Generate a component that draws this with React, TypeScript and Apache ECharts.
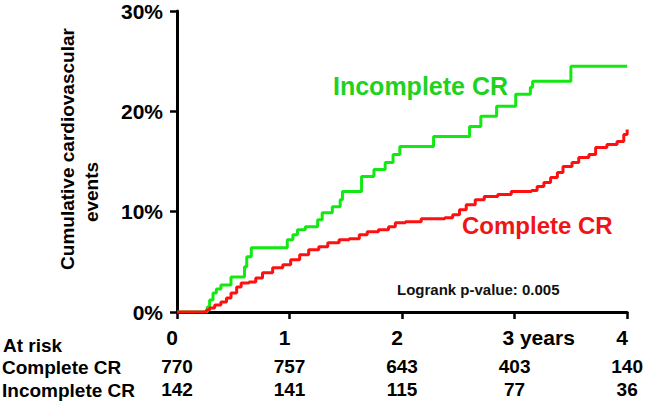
import React, { useEffect, useRef } from "react";
import * as echarts from "echarts";

// ---- data ----
const yearTicks = [0, 1, 2, 3, 4];
const yearLabels = ["0", "1", "2", "3 years", "4"];
const atRiskComplete = [770, 757, 643, 403, 140];
const atRiskIncomplete = [142, 141, 115, 77, 36];
const yTicks = [0, 10, 20, 30];

// Incomplete CR (green) Kaplan-Meier cumulative events, % (time in years)
const incompleteT = [0, 0.27, 0.29, 0.32, 0.35, 0.39, 0.48, 0.6, 0.62, 0.66, 0.98, 1.03, 1.07, 1.14, 1.25, 1.29, 1.38, 1.45, 1.47, 1.64, 1.75, 1.85, 1.92, 1.98, 2.28, 2.6, 2.7, 2.84, 3.01, 3.14, 3.16, 3.5, 4.0];
const incompleteV = [0, 0.5, 1.2, 1.9, 2.3, 2.7, 3.5, 4.5, 5.5, 6.4, 7.2, 7.7, 8.2, 8.5, 9.2, 9.9, 10.5, 11.2, 12.0, 13.5, 14.2, 14.9, 15.7, 16.5, 17.5, 18.5, 19.5, 20.5, 21.7, 22.4, 23.0, 24.5, 24.5];

// Complete CR (red)
const completeT = [0, 0.26, 0.29, 0.335, 0.39, 0.44, 0.48, 0.53, 0.57, 0.64, 0.7, 0.76, 0.85, 0.94, 1.01, 1.09, 1.17, 1.26, 1.34, 1.44, 1.53, 1.62, 1.69, 1.79, 1.88, 1.94, 2.03, 2.17, 2.38, 2.45, 2.51, 2.57, 2.65, 2.73, 2.85, 2.97, 3.15, 3.2, 3.26, 3.32, 3.38, 3.43, 3.51, 3.57, 3.66, 3.72, 3.82, 3.91, 3.97, 4.0];
const completeV = [0, 0.2, 0.4, 0.7, 1.0, 1.4, 1.9, 2.5, 2.9, 3.0, 3.4, 3.9, 4.4, 4.7, 5.2, 5.7, 6.2, 6.5, 6.9, 7.2, 7.3, 7.7, 8.0, 8.2, 8.5, 8.9, 9.0, 9.3, 9.4, 9.7, 10.2, 10.7, 11.2, 11.5, 11.7, 12.0, 12.1, 12.5, 12.9, 13.4, 13.9, 14.5, 14.9, 15.4, 15.7, 16.4, 16.7, 17.0, 17.7, 18.2];

const yTitleLines = ["Cumulative cardiovascular", "events"];

const FONT = '"Liberation Sans", Arial, Helvetica, sans-serif';
const GREEN = "#12e812";
const RED = "#ff1010";

export default function App() {
  const ref = useRef<HTMLDivElement>(null);
  useEffect(() => {
    if (!ref.current) return;
    const chart = echarts.init(ref.current, null, { renderer: "svg" });
    const rowAxis = (values: number[], margin: number) => ({
      type: "value",
      position: "bottom",
      min: 0,
      max: 4,
      interval: 1,
      axisLine: { show: false },
      axisTick: { show: false },
      splitLine: { show: false },
      axisLabel: {
        margin,
        color: "#000",
        fontFamily: FONT,
        fontWeight: "bold",
        fontSize: 19,
        formatter: (v: number) => {
          const i = yearTicks.indexOf(v);
          return i >= 0 ? String(values[i]) : "";
        },
      },
    });
    const txt = (text: string, x: number, y: number, size: number, fill = "#000", extra: any = {}) => ({
      type: "text",
      x,
      y,
      ...extra,
      style: { text, fill, fontFamily: FONT, fontWeight: "bold", fontSize: size, align: extra.align || "left", verticalAlign: "middle" },
    });
    chart.setOption({
      animation: false,
      grid: { left: 177, right: 16, top: 11, bottom: 92, containLabel: false },
      xAxis: [
        {
          type: "value",
          min: 0,
          max: 4,
          interval: 1,
          axisLine: { show: true, lineStyle: { color: "#000", width: 3 } },
          axisTick: { show: true, length: 7, lineStyle: { color: "#000", width: 2.5 } },
          splitLine: { show: false },
          axisLabel: {
            margin: 15,
            color: "#000",
            fontFamily: FONT,
            fontWeight: "bold",
            fontSize: 21,
            formatter: (v: number) => {
              const i = yearTicks.indexOf(v);
              if (i < 0) return "";
              return i === 3 ? `{y|${yearLabels[i]}}` : `{n|${yearLabels[i]}}`;
            },
            rich: {
              n: { fontFamily: FONT, fontWeight: "bold", fontSize: 21, color: "#000", padding: [0, 10, 0, 0] },
              y: { fontFamily: FONT, fontWeight: "bold", fontSize: 21, color: "#000", padding: [0, 0, 0, 48] },
            },
          },
        },
        rowAxis(atRiskComplete, 45),
        rowAxis(atRiskIncomplete, 68),
      ],
      yAxis: {
        type: "value",
        min: 0,
        max: 30,
        interval: 10,
        axisLine: { show: true, lineStyle: { color: "#000", width: 3 } },
        axisTick: { show: true, length: 7, lineStyle: { color: "#000", width: 2.5 } },
        splitLine: { show: false },
        axisLabel: {
          margin: 14,
          color: "#000",
          fontFamily: FONT,
          fontWeight: "bold",
          fontSize: 21,
          formatter: (v: number) => (yTicks.includes(v) ? `${v}%` : ""),
        },
      },
      series: [
        {
          name: "Incomplete CR",
          type: "line",
          step: "end",
          symbol: "none",
          data: incompleteT.map((t, i) => [t, incompleteV[i]]),
          lineStyle: { color: GREEN, width: 3 },
        },
        {
          name: "Complete CR",
          type: "line",
          step: "end",
          symbol: "none",
          data: completeT.map((t, i) => [t, completeV[i]]),
          lineStyle: { color: RED, width: 3 },
        },
      ],
      graphic: [
        txt(yTitleLines[0], 67, 149, 19, "#000", { rotation: Math.PI / 2, align: "center" }),
        txt(yTitleLines[1], 91, 192, 19, "#000", { rotation: Math.PI / 2, align: "center" }),
        txt("Incomplete CR", 333, 86, 25, "#1ed21e"),
        txt("Complete CR", 462, 225, 24, "#f01414"),
        txt("Logrank p-value: 0.005", 397, 289, 15, "#111"),
        txt("At risk", 3, 345, 19),
        txt("Complete CR", 2, 367, 19),
        txt("Incomplete CR", 2, 390, 19),
      ],
    });
    return () => chart.dispose();
  }, []);
  return (
    <div
      ref={ref}
      style={{ position: "absolute", left: 0, top: 0, width: 646, height: 404, background: "#fff" }}
    />
  );
}
